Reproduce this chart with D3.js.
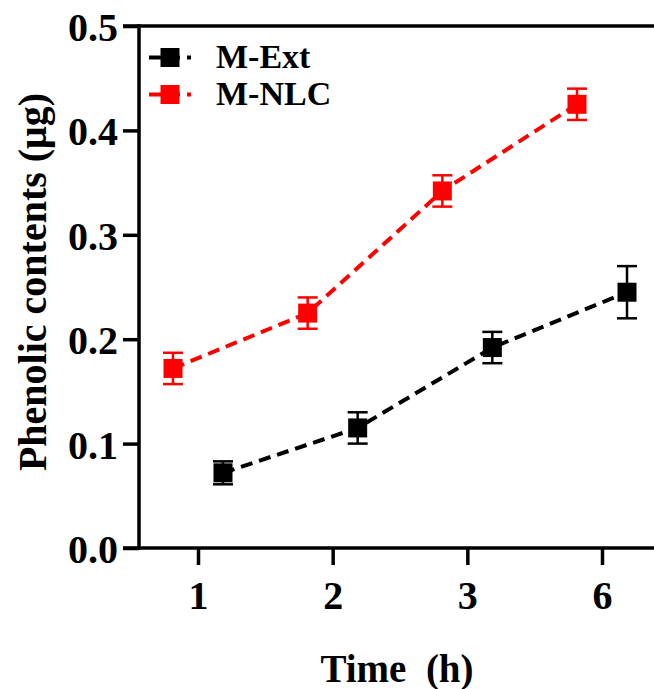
<!DOCTYPE html>
<html>
<head>
<meta charset="utf-8">
<script src="https://cdn.jsdelivr.net/npm/d3@7"></script>
<style>
  html, body { margin: 0; padding: 0; background: #fff; }
  svg { display: block; }
  text { font-family: "Liberation Serif", "Times New Roman", serif; font-weight: bold; }
</style>
</head>
<body>
<svg id="chart" width="654" height="689"></svg>
<script>
// Time points (h) shown as categories on the x axis
const timeLabels = ["1", "2", "3", "6"];
const seriesNames = ["M-NLC", "M-Ext"];

// Phenolic contents (µg), mean and SD per time point
const mExtMean = [0.072, 0.115, 0.192, 0.245];
const mExtSD   = [0.011, 0.015, 0.015, 0.025];
const mNlcMean = [0.172, 0.225, 0.342, 0.425];
const mNlcSD   = [0.015, 0.015, 0.015, 0.015];

const yTickValues = [0.0, 0.1, 0.2, 0.3, 0.4, 0.5];

const series = [
  { name: "M-Ext", color: "#000000", mean: mExtMean, sd: mExtSD },
  { name: "M-NLC", color: "#ff0000", mean: mNlcMean, sd: mNlcSD }
];

const svg = d3.select("#chart");
const W = 654;
const plotLeft = 139, plotTop = 26, plotBottom = 548;

const x = d3.scalePoint().domain(timeLabels).range([198, 602]);
const dodge = d3.scalePoint().domain(seriesNames).range([-25, 25]);
const y = d3.scaleLinear().domain([0, 0.5]).range([plotBottom, plotTop]);

const axisStroke = 3.5;

// Y axis
const yAxis = svg.append("g")
  .attr("transform", `translate(${plotLeft},0)`)
  .call(d3.axisLeft(y).tickValues(yTickValues).tickSize(16).tickPadding(5).tickFormat(d3.format(".1f")));
yAxis.select(".domain").remove();
yAxis.selectAll(".tick line").attr("stroke", "#000").attr("stroke-width", axisStroke);
yAxis.selectAll(".tick text")
  .attr("font-size", 40).attr("fill", "#000")
  .attr("dy", "0.36em");
svg.append("line")
  .attr("x1", plotLeft).attr("x2", plotLeft)
  .attr("y1", plotTop - axisStroke / 2).attr("y2", plotBottom + axisStroke / 2)
  .attr("stroke", "#000").attr("stroke-width", axisStroke);

// Top frame line
svg.append("line")
  .attr("x1", plotLeft - 16).attr("x2", W)
  .attr("y1", plotTop).attr("y2", plotTop)
  .attr("stroke", "#000").attr("stroke-width", axisStroke);

// X axis
const xAxis = svg.append("g")
  .attr("transform", `translate(0,${plotBottom})`)
  .call(d3.axisBottom(x).tickSize(17).tickPadding(16));
xAxis.select(".domain").remove();
xAxis.selectAll(".tick line").attr("stroke", "#000").attr("stroke-width", axisStroke);
xAxis.selectAll(".tick text").attr("font-size", 40).attr("fill", "#000");
svg.append("line")
  .attr("x1", plotLeft - 16).attr("x2", W)
  .attr("y1", plotBottom).attr("y2", plotBottom)
  .attr("stroke", "#000").attr("stroke-width", axisStroke);

// Axis titles
svg.append("text")
  .attr("x", 397).attr("y", 682)
  .attr("text-anchor", "middle")
  .attr("font-size", 39)
  .attr("fill", "#000")
  .attr("xml:space", "preserve")
  .text("Time  (h)");

svg.append("text")
  .attr("transform", `translate(46,282) rotate(-90)`)
  .attr("text-anchor", "middle")
  .attr("font-size", 40)
  .attr("fill", "#000")
  .text("Phenolic contents (μg)");

// Series: dashed lines, error bars and square markers
const mk = 19, cap = 20;
series.forEach(s => {
  const pts = timeLabels.map((t, i) => ({
    cx: x(t) + dodge(s.name), m: s.mean[i], sd: s.sd[i]
  }));
  const g = svg.append("g");
  g.append("path")
    .datum(pts)
    .attr("fill", "none")
    .attr("stroke", s.color)
    .attr("stroke-width", 4)
    .attr("stroke-dasharray", "12,7")
    .attr("d", d3.line().x(d => d.cx).y(d => y(d.m)));

  const eb = g.selectAll(".eb").data(pts).enter().append("g");
  eb.append("line")
    .attr("x1", d => d.cx).attr("x2", d => d.cx)
    .attr("y1", d => y(d.m + d.sd)).attr("y2", d => y(d.m - d.sd))
    .attr("stroke", s.color).attr("stroke-width", 2.5);
  [1, -1].forEach(sign => {
    eb.append("line")
      .attr("x1", d => d.cx - cap / 2).attr("x2", d => d.cx + cap / 2)
      .attr("y1", d => y(d.m + sign * d.sd)).attr("y2", d => y(d.m + sign * d.sd))
      .attr("stroke", s.color).attr("stroke-width", 2.5);
  });
  eb.append("rect")
    .attr("x", d => d.cx - mk / 2).attr("y", d => y(d.m) - mk / 2)
    .attr("width", mk).attr("height", mk)
    .attr("fill", s.color);
});

// Legend
const legend = svg.append("g");
series.forEach((s, i) => {
  const cy = 57.5 + i * 37;
  legend.append("line")
    .attr("x1", 149).attr("x2", 191)
    .attr("y1", cy).attr("y2", cy)
    .attr("stroke", s.color).attr("stroke-width", 4)
    .attr("stroke-dasharray", "12,7");
  legend.append("rect")
    .attr("x", 170 - mk / 2).attr("y", cy - mk / 2)
    .attr("width", mk).attr("height", mk)
    .attr("fill", s.color);
  legend.append("text")
    .attr("x", 216).attr("y", cy + 10.5)
    .attr("font-size", 34)
    .attr("fill", "#000")
    .text(s.name);
});
</script>
</body>
</html>
